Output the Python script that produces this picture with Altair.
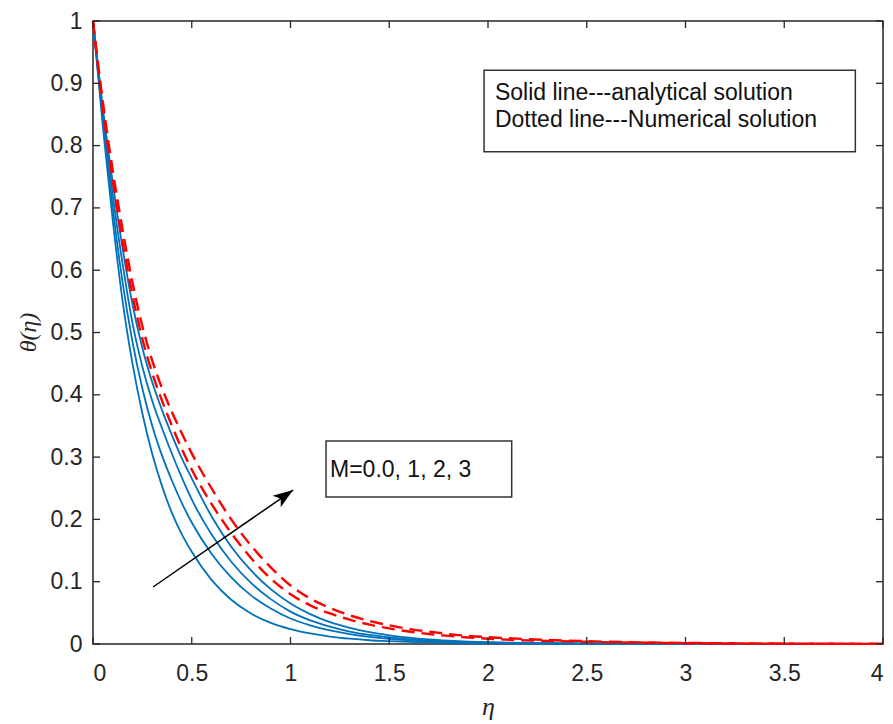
import altair as alt
import pandas as pd

# ---------------- data ----------------
ETA = [0, 0.05, 0.1, 0.15, 0.2, 0.25, 0.3, 0.35, 0.4, 0.45,
       0.5, 0.6, 0.7, 0.8, 0.9, 1.0, 1.1, 1.2, 1.3, 1.4,
       1.5, 1.6, 1.7, 1.8, 1.9, 2.0, 2.5, 3.0, 3.5, 4.0]

ANALYTIC_M0 = [1, 0.83, 0.68, 0.55, 0.45, 0.37, 0.305, 0.253, 0.21, 0.176,
               0.148, 0.103, 0.071, 0.049, 0.034, 0.024, 0.017, 0.012, 0.0085, 0.006,
               0.0045, 0.0034, 0.0025, 0.0019, 0.0014, 0.001, 0.0003, 0.0001, 0.0, 0.0]
ANALYTIC_M1 = [1, 0.84, 0.70, 0.58, 0.485, 0.41, 0.35, 0.302, 0.262, 0.226,
               0.195, 0.145, 0.107, 0.078, 0.057, 0.041, 0.030, 0.022, 0.016, 0.0115,
               0.0083, 0.006, 0.0044, 0.0032, 0.0023, 0.0017, 0.0005, 0.0001, 0.0, 0.0]
ANALYTIC_M2 = [1, 0.85, 0.72, 0.61, 0.515, 0.445, 0.39, 0.346, 0.305, 0.267,
               0.232, 0.176, 0.132, 0.098, 0.072, 0.052, 0.038, 0.028, 0.020, 0.0145,
               0.0105, 0.0077, 0.0056, 0.0041, 0.003, 0.0022, 0.0007, 0.0002, 0.0, 0.0]
ANALYTIC_M3 = [1, 0.86, 0.74, 0.635, 0.545, 0.475, 0.42, 0.375, 0.335, 0.298,
               0.266, 0.205, 0.156, 0.118, 0.088, 0.065, 0.048, 0.035, 0.026, 0.019,
               0.014, 0.0102, 0.0074, 0.0054, 0.0039, 0.0028, 0.0008, 0.0002, 0.0001, 0.0]

NUMERIC_A = [1, 0.86, 0.745, 0.645, 0.56, 0.49, 0.435, 0.39, 0.35, 0.313,
             0.28, 0.225, 0.178, 0.138, 0.105, 0.080, 0.062, 0.049, 0.039, 0.031,
             0.025, 0.020, 0.016, 0.013, 0.0105, 0.0085, 0.0035, 0.0013, 0.0005, 0.0002]
NUMERIC_B = [1, 0.87, 0.76, 0.665, 0.58, 0.51, 0.455, 0.41, 0.372, 0.338,
             0.306, 0.25, 0.20, 0.158, 0.123, 0.094, 0.073, 0.058, 0.046, 0.037,
             0.030, 0.024, 0.020, 0.016, 0.013, 0.011, 0.0045, 0.0018, 0.0007, 0.0003]

X_TICKS = [0, 0.5, 1, 1.5, 2, 2.5, 3, 3.5, 4]
Y_TICKS = [0, 0.1, 0.2, 0.3, 0.4, 0.5, 0.6, 0.7, 0.8, 0.9, 1]

ARROW_ETA = [0.304, 1.013]
ARROW_THETA = [0.0915, 0.247]

NOTE_LINES = ["Solid line---analytical solution", "Dotted line---Numerical solution"]
M_LABEL = "M=0.0, 1, 2, 3"

# ---------------- tables ----------------
analytic = pd.concat([
    pd.DataFrame({"eta": ETA, "theta": v, "s": name})
    for name, v in [("M0", ANALYTIC_M0), ("M1", ANALYTIC_M1), ("M2", ANALYTIC_M2), ("M3", ANALYTIC_M3)]
])
numeric = pd.concat([
    pd.DataFrame({"eta": ETA, "theta": v, "s": name})
    for name, v in [("A", NUMERIC_A), ("B", NUMERIC_B)]
])

W, H = 790, 623
xs = alt.Scale(domain=[0, 4], nice=False, zero=False)
ys = alt.Scale(domain=[0, 1], nice=False, zero=False)
AX = "#262626"
FONT = "Liberation Sans"

base_x = alt.X("eta:Q", scale=xs, axis=alt.Axis(
    values=X_TICKS, format=".1~f", tickSize=0, domain=False, grid=False,
    labelFont=FONT, labelFontSize=23, labelColor=AX, labelPadding=18,
    title="η", titleFont="Liberation Serif", titleFontStyle="italic", titleFontWeight="normal",
    titleFontSize=26, titleColor=AX, titleX=395, titleY=62, titleBaseline="middle"))
base_y = alt.Y("theta:Q", scale=ys, axis=alt.Axis(
    values=Y_TICKS, format=".1~f", tickSize=0, domain=False, grid=False,
    labelFont=FONT, labelFontSize=23, labelColor=AX, labelPadding=11,
    title="θ(η)", titleFont="Liberation Serif", titleFontStyle="italic", titleFontWeight="normal",
    titleFontSize=24, titleColor=AX, titleX=-65, titleY=311, titleAngle=-90,
    titleAlign="center", titleBaseline="middle"))

blue = alt.Chart(analytic).mark_line(color="#0072BD", strokeWidth=1.8, interpolate="monotone").encode(
    x=base_x, y=base_y, detail="s:N")
red = alt.Chart(numeric).mark_line(color="#FF0000", strokeWidth=2.4, strokeDash=[13, 7],
                                   interpolate="monotone").encode(
    x=alt.X("eta:Q", scale=xs), y=alt.Y("theta:Q", scale=ys), detail="s:N")

xt = pd.DataFrame({"t": X_TICKS})
yt = pd.DataFrame({"t": Y_TICKS})
tick_style = dict(color=AX, strokeWidth=1.3)
ticks = [
    alt.Chart(xt).mark_rule(**tick_style).encode(x=alt.X("t:Q", scale=xs), y=alt.value(H), y2=alt.value(H - 7)),
    alt.Chart(xt).mark_rule(**tick_style).encode(x=alt.X("t:Q", scale=xs), y=alt.value(0), y2=alt.value(7)),
    alt.Chart(yt).mark_rule(**tick_style).encode(y=alt.Y("t:Q", scale=ys), x=alt.value(0), x2=alt.value(7)),
    alt.Chart(yt).mark_rule(**tick_style).encode(y=alt.Y("t:Q", scale=ys), x=alt.value(W), x2=alt.value(W - 7)),
]

# arrow
arrow_df = pd.DataFrame({"eta": ARROW_ETA, "theta": ARROW_THETA})
arrow_line = alt.Chart(arrow_df).mark_line(color="black", strokeWidth=1.5).encode(
    x=alt.X("eta:Q", scale=xs), y=alt.Y("theta:Q", scale=ys))
arrow_head = alt.Chart(arrow_df.tail(1)).mark_point(
    shape="M0,0 L-2,-0.7 L-1.5,0 L-2,0.7 Z", filled=True, color="black", opacity=1,
    size=400, angle=325).encode(x=alt.X("eta:Q", scale=xs), y=alt.Y("theta:Q", scale=ys))

# annotation boxes
box1 = alt.Chart(pd.DataFrame({"a": [1.98], "b": [3.86], "c": [0.921], "d": [0.790]})).mark_rect(
    fill="white", stroke="#333333", strokeWidth=1.5).encode(
    x=alt.X("a:Q", scale=xs), x2="b", y=alt.Y("c:Q", scale=ys), y2="d")
note_df = pd.DataFrame({"eta": [2.035, 2.035], "theta": [0.884, 0.841], "txt": NOTE_LINES})
note_txt = alt.Chart(note_df).mark_text(align="left", baseline="middle", font=FONT, fontSize=23,
                                        color="#111111").encode(
    x=alt.X("eta:Q", scale=xs), y=alt.Y("theta:Q", scale=ys), text="txt:N")

box2 = alt.Chart(pd.DataFrame({"a": [1.18], "b": [2.12], "c": [0.326], "d": [0.236]})).mark_rect(
    fill="white", stroke="#333333", strokeWidth=1.5).encode(
    x=alt.X("a:Q", scale=xs), x2="b", y=alt.Y("c:Q", scale=ys), y2="d")
m_txt = alt.Chart(pd.DataFrame({"eta": [1.20], "theta": [0.279], "txt": [M_LABEL]})).mark_text(
    align="left", baseline="middle", font=FONT, fontSize=23, color="#111111").encode(
    x=alt.X("eta:Q", scale=xs), y=alt.Y("theta:Q", scale=ys), text="txt:N")

chart = alt.layer(blue, red, *ticks, arrow_line, arrow_head, box1, note_txt, box2, m_txt).properties(
    width=W, height=H,
    autosize=alt.AutoSizeParams(type="none"),
    padding={"left": 93, "top": 21, "right": 10, "bottom": 80},
    background="white",
).configure_view(stroke=AX, strokeWidth=1.5)

chart.save("out.html", embed_options={"renderer": "svg", "actions": False})
